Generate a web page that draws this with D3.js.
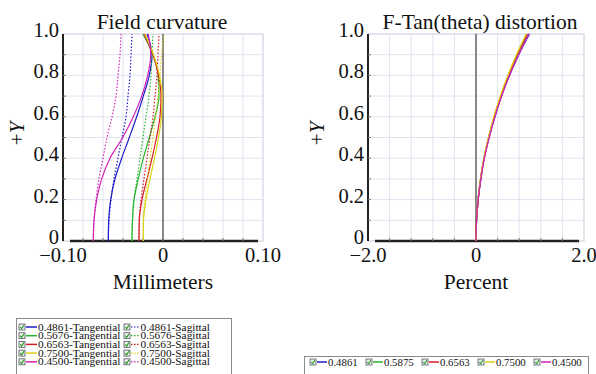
<html>
<script src="https://d3js.org/d3.v7.min.js"></script>
<style>
body {margin: 0; background: white;}
</style>
<body>
<script>
// field curvature, x in mm at each field height
var fieldY = [0, 0.1, 0.2, 0.3, 0.4, 0.5, 0.6, 0.7, 0.8, 0.9, 1.0];
var wavelengths = ["0.4861", "0.5676", "0.6563", "0.7500", "0.4500"];
var tangential = [
  [-0.0547, -0.0543, -0.0523, -0.048, -0.0413, -0.0337, -0.0263, -0.0197, -0.0137, -0.011, -0.016],
  [-0.031, -0.0305, -0.029, -0.0247, -0.0197, -0.0137, -0.008, -0.004, -0.005, -0.010, -0.020],
  [-0.024, -0.0237, -0.021, -0.016, -0.011, -0.0065, -0.003, -0.002, -0.0045, -0.010, -0.019],
  [-0.0197, -0.0195, -0.017, -0.013, -0.0085, -0.0045, -0.0015, -0.0008, -0.0035, -0.0095, -0.018],
  [-0.0697, -0.069, -0.0663, -0.0613, -0.053, -0.0403, -0.0297, -0.0213, -0.0153, -0.0123, -0.0147]
];
var sagittal = [
  [-0.0547, -0.054, -0.052, -0.049, -0.045, -0.041, -0.037, -0.035, -0.033, -0.032, -0.031],
  [-0.031, -0.0305, -0.029, -0.026, -0.023, -0.020, -0.017, -0.014, -0.012, -0.011, -0.010],
  [-0.024, -0.0237, -0.022, -0.019, -0.016, -0.013, -0.010, -0.008, -0.006, -0.005, -0.004],
  [-0.0197, -0.0195, -0.018, -0.0155, -0.013, -0.010, -0.0075, -0.005, -0.003, -0.0015, 0.001],
  [-0.0697, -0.069, -0.067, -0.064, -0.060, -0.056, -0.051, -0.047, -0.045, -0.043, -0.042]
];

// distortion, percent
var distWavelengths = ["0.4861", "0.5875", "0.6563", "0.7500", "0.4500"];
var distortion = [
  [0, 0.01, 0.04, 0.09, 0.15, 0.24, 0.35, 0.47, 0.62, 0.79, 0.99],
  [0, 0.01, 0.04, 0.085, 0.15, 0.235, 0.34, 0.46, 0.60, 0.77, 0.95],
  [0, 0.01, 0.04, 0.085, 0.15, 0.235, 0.34, 0.46, 0.60, 0.76, 0.95],
  [0, 0.01, 0.037, 0.083, 0.145, 0.23, 0.33, 0.45, 0.59, 0.75, 0.93],
  [0, 0.01, 0.04, 0.09, 0.155, 0.245, 0.35, 0.475, 0.62, 0.79, 0.98]
];

var yTicks = [0, 0.2, 0.4, 0.6, 0.8, 1.0];
var yTickLabels = ["0", "0.2", "0.4", "0.6", "0.8", "1.0"];
var fcTicks = [-0.1, 0, 0.1];
var fcTickLabels = ["\u22120.10", "0", "0.10"];
var dTicks = [-2, 0, 2];
var dTickLabels = ["\u22122.0", "0", "2.0"];

var colors = ["#1c1cc8", "#28b42c", "#d41c24", "#dcd214", "#d222b4"];
var serif = "'Liberation Serif'";

var w = 596, h = 374;
var svg = d3.select("body").append("svg").attr("width", w).attr("height", h);

var yScale = d3.scaleLinear().domain([0, 1]).range([241, 34]);

function addText(g, x, y, str, size, anchor) {
  return g.append("text").attr("x", x).attr("y", y)
    .attr("text-anchor", anchor || "start")
    .style("font-family", serif).style("font-size", size + "px").style("fill", "#111")
    .text(str);
}

function panel(xScale, xDomainStep, ticks, tickLabels, title, titleX, xTitle, yTitleX) {
  var x0 = xScale.range()[0], x1 = xScale.range()[1];
  var g = svg.append("g");

  // grid
  var d = xScale.domain();
  var xs = d3.range(d[0], d[1] + xDomainStep / 2, xDomainStep);
  g.selectAll(".vg").data(xs).enter().append("line")
    .attr("x1", function(v) { return xScale(v); }).attr("x2", function(v) { return xScale(v); })
    .attr("y1", yScale(0)).attr("y2", yScale(1))
    .attr("stroke", "#e2e3f1").attr("stroke-width", 1);
  g.selectAll(".hg").data(d3.range(0, 1.05, 0.1)).enter().append("line")
    .attr("x1", x0).attr("x2", x1)
    .attr("y1", function(v) { return yScale(v); }).attr("y2", function(v) { return yScale(v); })
    .attr("stroke", "#e2e3f1").attr("stroke-width", 1);
  g.append("rect").attr("x", x0).attr("y", yScale(1)).attr("width", x1 - x0).attr("height", yScale(0) - yScale(1))
    .attr("fill", "none").attr("stroke", "#d6d7e2");

  // axes lines
  g.append("line").attr("x1", x0).attr("x2", x0).attr("y1", yScale(1)).attr("y2", yScale(0))
    .attr("stroke", "#222").attr("stroke-width", 2);
  g.append("line").attr("x1", x0 + 7).attr("x2", x1 - 5).attr("y1", yScale(0)).attr("y2", yScale(0))
    .attr("stroke", "#222").attr("stroke-width", 2.5);
  g.append("line").attr("x1", xScale(0)).attr("x2", xScale(0)).attr("y1", yScale(1)).attr("y2", yScale(0))
    .attr("stroke", "#444").attr("stroke-width", 1.2);
  // small tick notches
  g.selectAll(".xt").data(xs.slice(1, -1)).enter().append("line")
    .attr("x1", function(v) { return xScale(v); }).attr("x2", function(v) { return xScale(v); })
    .attr("y1", yScale(0)).attr("y2", yScale(0) - 3).attr("stroke", "#777");
  g.selectAll(".yt").data(d3.range(0.1, 1, 0.1)).enter().append("line")
    .attr("x1", x0).attr("x2", x0 + 3)
    .attr("y1", function(v) { return yScale(v); }).attr("y2", function(v) { return yScale(v); }).attr("stroke", "#777");

  // labels
  yTicks.forEach(function(v, i) { addText(g, x0 - 4, yScale(v) + 3, yTickLabels[i], 20.5, "end"); });
  ticks.forEach(function(v, i) { addText(g, xScale(v), 262, tickLabels[i], 20.5, "middle"); });
  addText(g, titleX, 29, title, 21.5, "middle");
  addText(g, xScale(0), 289, xTitle, 21.5, "middle");
  var yt = g.append("text").attr("transform", "translate(" + yTitleX + "," + yScale(0.52) + ") rotate(-90)")
    .attr("text-anchor", "middle").style("font-family", serif).style("font-size", "21px").style("fill", "#111");
  yt.append("tspan").style("font-family", serif).text("+");
  yt.append("tspan").style("font-family", serif).style("font-style", "italic").text("Y");
  return g;
}

// Field curvature
var xFC = d3.scaleLinear().domain([-0.1, 0.1]).range([63, 263]);
var gFC = panel(xFC, 0.02, fcTicks, fcTickLabels, "Field curvature", 162, "Millimeters", 24);
var lineFC = d3.line()
  .x(function(d) { return xFC(d[0]); })
  .y(function(d) { return yScale(d[1]); })
  .curve(d3.curveMonotoneY);
wavelengths.forEach(function(wl, i) {
  gFC.append("path").datum(d3.zip(sagittal[i], fieldY)).attr("d", lineFC)
    .attr("fill", "none").attr("stroke", colors[i]).attr("stroke-width", 1.2).attr("stroke-dasharray", "1.5,1.8");
  gFC.append("path").datum(d3.zip(tangential[i], fieldY)).attr("d", lineFC)
    .attr("fill", "none").attr("stroke", colors[i]).attr("stroke-width", 1.2);
});

// Distortion
var xD = d3.scaleLinear().domain([-2, 2]).range([368, 584]);
var gD = panel(xD, 0.4, dTicks, dTickLabels, "F-Tan(theta) distortion", 480, "Percent", 324);
var lineD = d3.line()
  .x(function(d) { return xD(d[0]); })
  .y(function(d) { return yScale(d[1]); })
  .curve(d3.curveMonotoneY);
distWavelengths.forEach(function(wl, i) {
  gD.append("path").datum(d3.zip(distortion[i], fieldY)).attr("d", lineD)
    .attr("fill", "none").attr("stroke", colors[i]).attr("stroke-width", 1.3);
});

// legend helpers
function checkbox(g, x, y) {
  g.append("rect").attr("x", x).attr("y", y - 3).attr("width", 6).attr("height", 6)
    .attr("fill", "#eef3ea").attr("stroke", "#556").attr("stroke-width", 0.8);
  g.append("path").attr("d", "M" + (x + 1.2) + "," + (y) + " L" + (x + 2.6) + "," + (y + 1.8) + " L" + (x + 5) + "," + (y - 2))
    .attr("fill", "none").attr("stroke", "#2a9a2a").attr("stroke-width", 1.2);
}

var legL = svg.append("g");
legL.append("rect").attr("x", 16.5).attr("y", 318.5).attr("width", 215).attr("height", 70)
  .attr("fill", "white").attr("stroke", "#8a8a8a");
wavelengths.forEach(function(wl, i) {
  var y = 327 + i * 8.7;
  checkbox(legL, 19, y);
  legL.append("line").attr("x1", 26).attr("x2", 37).attr("y1", y).attr("y2", y)
    .attr("stroke", colors[i]).attr("stroke-width", 1.5);
  addText(legL, 38, y + 3.6, wl + "-Tangential", 11.3);
  checkbox(legL, 124, y);
  legL.append("line").attr("x1", 131).attr("x2", 140).attr("y1", y).attr("y2", y)
    .attr("stroke", colors[i]).attr("stroke-width", 1.2).attr("stroke-dasharray", "1.5,1.5");
  addText(legL, 140.5, y + 3.6, wl + "-Sagittal", 11.3);
});

var legR = svg.append("g");
legR.append("rect").attr("x", 304.5).attr("y", 356.5).attr("width", 284).attr("height", 30)
  .attr("fill", "white").attr("stroke", "#8a8a8a");
distWavelengths.forEach(function(wl, i) {
  var x = 310 + i * 56, y = 362;
  checkbox(legR, x, y);
  legR.append("line").attr("x1", x + 7).attr("x2", x + 17).attr("y1", y).attr("y2", y)
    .attr("stroke", colors[i]).attr("stroke-width", 1.5);
  addText(legR, x + 18, y + 3.6, wl, 10.8);
});
</script>
</body>
</html>
